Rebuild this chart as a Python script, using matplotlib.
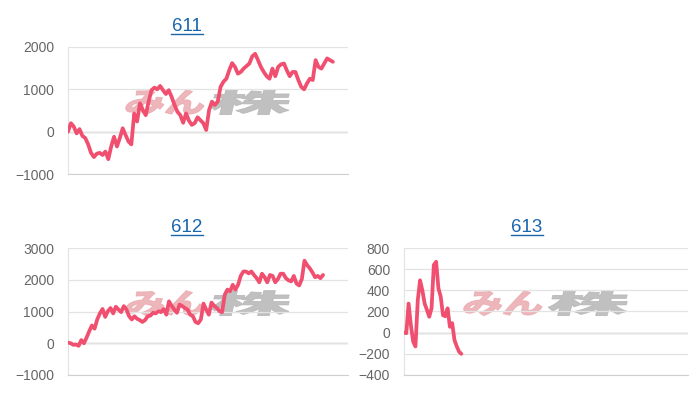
import matplotlib
matplotlib.use("Agg")
import matplotlib.pyplot as plt
from matplotlib.textpath import TextPath
from matplotlib.font_manager import FontProperties
from matplotlib.patches import PathPatch
from matplotlib.transforms import Affine2D
from matplotlib.lines import Line2D

titles = ["611", "612", "613"]

values_611 = [0, 200, 120, -40, 60, -100, -150, -300, -500, -600, -520, -500, -550, -470,
              -650, -350, -120, -350, -150, 80, -80, -230, -300, 430, 240, 670, 510, 390,
              710, 980, 1040, 1000, 1080, 980, 890, 980, 820, 630, 470, 390, 210, 430, 260,
              160, 200, 340, 270, 200, 40, 510, 710, 630, 710, 1060, 1180, 1250, 1450, 1620,
              1530, 1370, 1410, 1490, 1550, 1610, 1780, 1840, 1690, 1530, 1410, 1310, 1250,
              1490, 1310, 1530, 1590, 1610, 1450, 1310, 1410, 1410, 1220, 1060, 1000, 1140,
              1250, 1220, 1690, 1530, 1490, 1610, 1730, 1690, 1650]

values_612 = [20, 0, -50, -40, -80, 100, 0, 180, 380, 560, 460, 750, 940, 1080, 830, 1010,
              1110, 940, 1150, 1060, 980, 1170, 1060, 850, 750, 850, 770, 730, 670, 730, 850,
              870, 960, 940, 1010, 980, 1080, 900, 1320, 1180, 1060, 960, 1220, 1170, 1110,
              1060, 900, 850, 670, 630, 750, 1250, 1060, 900, 1280, 1180, 1110, 1010, 980,
              1530, 1690, 1640, 1840, 1690, 1840, 2120, 2260, 2260, 2200, 2260, 2150, 2050,
              1920, 2190, 2080, 1920, 2150, 2120, 1920, 2020, 2190, 2190, 2050, 1980, 1950,
              2120, 1880, 1820, 2020, 2600, 2460, 2360, 2230, 2080, 2120, 2050, 2150]

values_613 = [0, -5, 275, 70, -85, -130, 305, 495, 400, 275, 215, 150, 230, 640, 670, 420,
              340, 165, 155, 230, 55, 90, -70, -130, -180, -200]

yticks_611 = [-1000, 0, 1000, 2000]
yticks_612 = [-1000, 0, 1000, 2000, 3000]
yticks_613 = [-400, -200, 0, 200, 400, 600, 800]

# fraction of the x-axis covered by each series
end_frac = [0.946, 0.911, 0.202]

LINE = "#f04f6f"
W, H = 700, 400

fig = plt.figure(figsize=(7, 4), dpi=100)
fig.patch.set_facecolor("white")

# axes rectangles in pixels: left, top, right, bottom
rects = [(68, 47, 348, 174), (68, 248, 348, 375), (404, 248, 688, 375)]
title_x = [187, 187, 527]
series = [values_611, values_612, values_613]
ticks = [yticks_611, yticks_612, yticks_613]

fp_wm = FontProperties(family="Noto Sans CJK JP", weight="heavy")
fp_title = FontProperties(family="Liberation Sans", size=13.5)


def stretched_text(ax, s, x0, y0, w, h, color, alpha):
    tp = TextPath((0, 0), s, size=1, prop=fp_wm)
    bb = tp.get_extents()
    tr = (Affine2D().translate(-bb.x0, -bb.y0).scale(w / bb.width, h / bb.height)
          .skew_deg(14, 0).translate(x0, H - y0 - h).scale(1 / W, 1 / H) + fig.transFigure)
    p = PathPatch(tp, transform=tr, facecolor=color, edgecolor=color, linewidth=0.6,
                  alpha=alpha, zorder=1, clip_on=False)
    ax.add_artist(p)


for (l, t, r, b), vals, yt, title, frac, tx in zip(rects, series, ticks, titles, end_frac, title_x):
    ax = fig.add_axes([l / W, 1 - b / H, (r - l) / W, (b - t) / H])
    x = list(range(len(vals)))
    ax.set_ylim(yt[0], yt[-1])
    ax.set_xlim(0, (len(vals) - 1) / frac)
    ax.set_yticks(yt)
    ax.set_xticks([])
    ax.grid(axis="y", color="#e3e3e3", linewidth=0.9, zorder=0)
    ax.axhline(0, color="#c4c4c4", linewidth=1.0, zorder=0.5)
    for s in ["top", "right"]:
        ax.spines[s].set_visible(False)
    ax.spines["left"].set_color("#e3e3e3")
    ax.spines["bottom"].set_color("#d0d0d0")
    ax.tick_params(axis="y", length=0, pad=10, labelcolor="#666666", labelsize=10)
    for lab in ax.get_yticklabels():
        lab.set_fontfamily("Liberation Sans")
    ax.plot(x, vals, color=LINE, linewidth=2.7, zorder=3, solid_joinstyle="round",
            solid_capstyle="round")

    # watermark
    cx = (l + r) / 2 - 2
    cy = t + 0.43 * (b - t)
    stretched_text(ax, "みん", cx - 82, cy - 12, 78, 25, "#e9a4aa", 0.8)
    stretched_text(ax, "株", cx + 2, cy - 12, 80, 25, "#b5b5b5", 0.85)

    # title with underline
    ty = t - 16
    fig.text(tx / W, 1 - ty / H, title, ha="center", va="baseline",
             fontproperties=fp_title, color="#1a66ad")
    fig.add_artist(Line2D([(tx - 16) / W, (tx + 16) / W], [1 - (ty + 3) / H, 1 - (ty + 3) / H],
                          color="#1a66ad", linewidth=1.0, transform=fig.transFigure))

fig.savefig("out.png", dpi=100, facecolor="white")
